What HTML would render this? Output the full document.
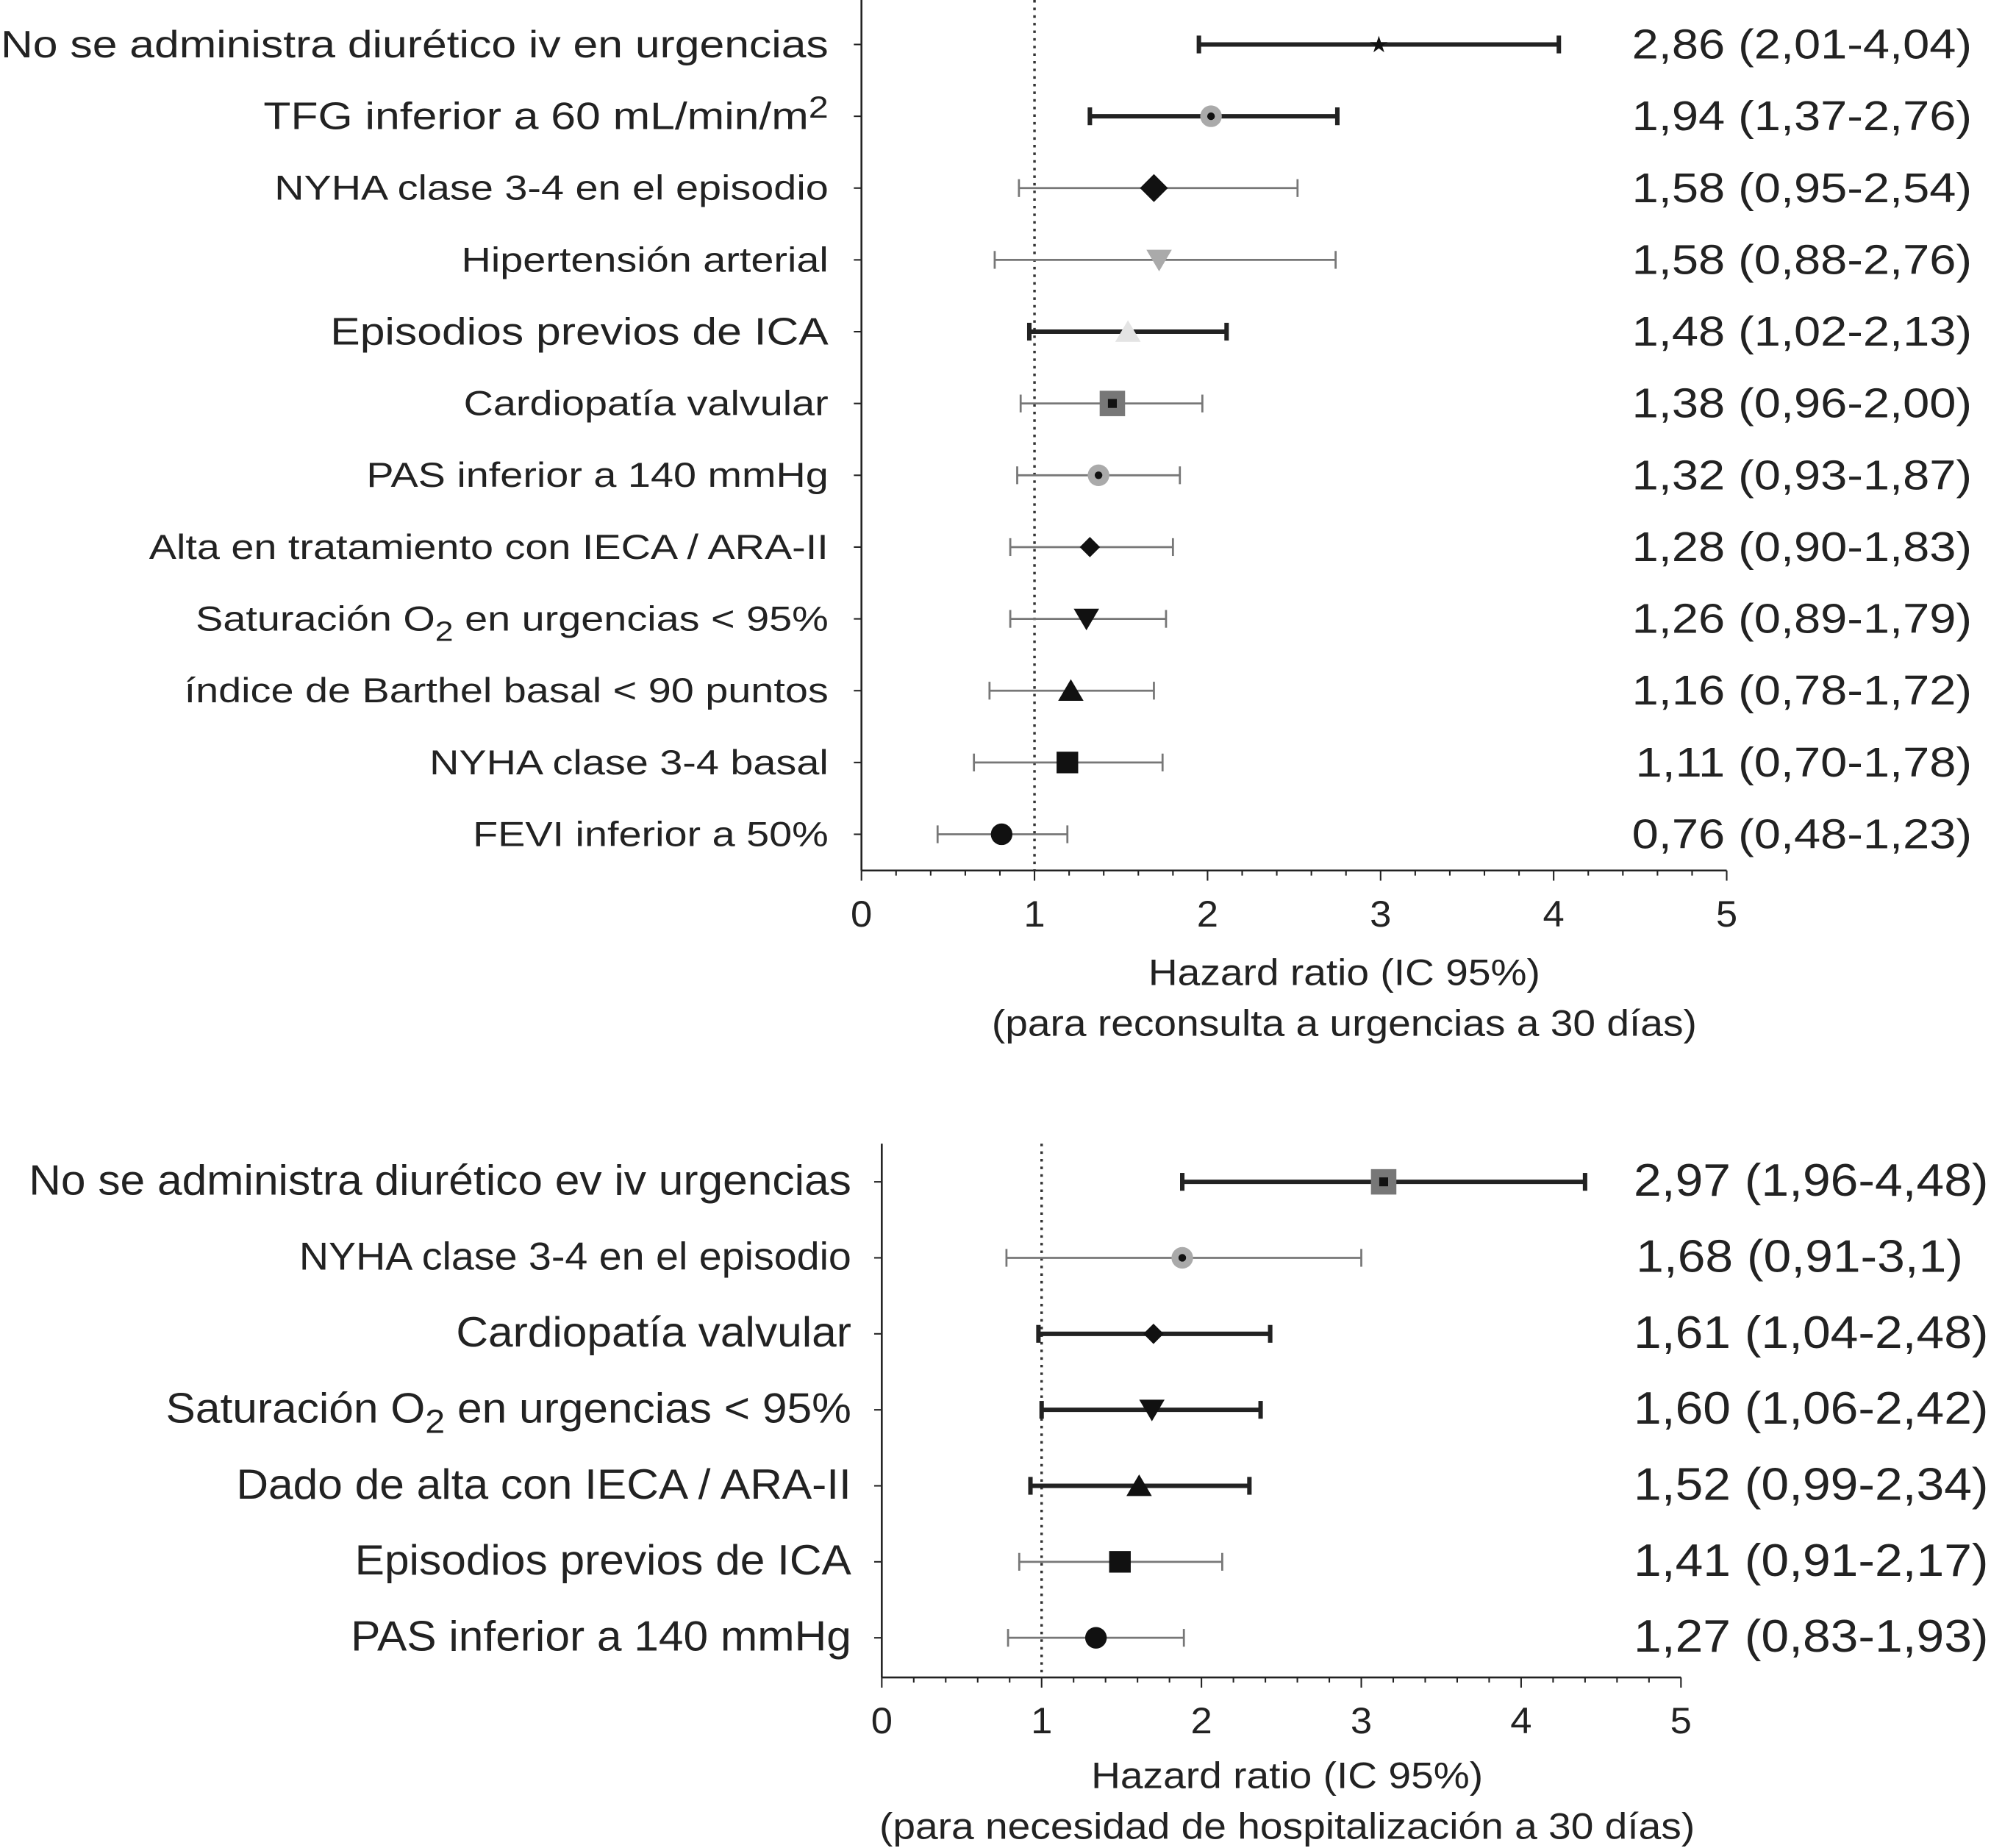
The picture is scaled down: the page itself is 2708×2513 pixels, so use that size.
<!DOCTYPE html>
<html><head><meta charset="utf-8"><style>
html,body{margin:0;padding:0;background:#fff}
svg{display:block;font-family:"Liberation Sans",sans-serif}
</style></head><body>
<svg id="chart" width="2708" height="2513" viewBox="0 0 1567 1454.2" xmlns="http://www.w3.org/2000/svg"></svg>
<script>
// ---- Panel A data (reconsulta a urgencias a 30 días)
const labelsA = ["No se administra diurético iv en urgencias","TFG inferior a 60 mL/min/m|2","NYHA clase 3-4 en el episodio","Hipertensión arterial","Episodios previos de ICA","Cardiopatía valvular","PAS inferior a 140 mmHg","Alta en tratamiento con IECA / ARA-II","Saturación O_2 en urgencias < 95%","índice de Barthel basal < 90 puntos","NYHA clase 3-4 basal","FEVI inferior a 50%"];
const pointA = [2.99,2.02,1.69,1.72,1.54,1.45,1.37,1.32,1.30,1.21,1.19,0.81];
const loA = [1.95,1.32,0.91,0.77,0.97,0.92,0.90,0.86,0.86,0.74,0.65,0.44];
const hiA = [4.03,2.75,2.52,2.74,2.11,1.97,1.84,1.80,1.76,1.69,1.74,1.19];
const valueTextA = ["2,86 (2,01-4,04)","1,94 (1,37-2,76)","1,58 (0,95-2,54)","1,58 (0,88-2,76)","1,48 (1,02-2,13)","1,38 (0,96-2,00)","1,32 (0,93-1,87)","1,28 (0,90-1,83)","1,26 (0,89-1,79)","1,16 (0,78-1,72)","1,11 (0,70-1,78)","0,76 (0,48-1,23)"];
const markerA = ["star","circleG","diamond","triDownG","triUpL","squareG","circleG","diamondS","triDown","triUp","square","circle"];
const thickA = [1,1,0,0,1,0,0,0,0,0,0,0];
// ---- Panel B data (hospitalización a 30 días)
const labelsB = ["No se administra diurético ev iv urgencias","NYHA clase 3-4 en el episodio","Cardiopatía valvular","Saturación O_2 en urgencias < 95%","Dado de alta con IECA / ARA-II","Episodios previos de ICA","PAS inferior a 140 mmHg"];
const pointB = [3.14,1.88,1.70,1.69,1.61,1.49,1.34];
const loB = [1.88,0.78,0.98,1.00,0.93,0.86,0.79];
const hiB = [4.40,3.00,2.43,2.37,2.30,2.13,1.89];
const valueTextB = ["2,97 (1,96-4,48)","1,68 (0,91-3,1)","1,61 (1,04-2,48)","1,60 (1,06-2,42)","1,52 (0,99-2,34)","1,41 (0,91-2,17)","1,27 (0,83-1,93)"];
const markerB = ["squareG","circleG","diamondS","triDown","triUp","square","circle"];
const thickB = [1,0,1,1,1,0,0];
const ticks = [0,1,2,3,4,5];

const svg = document.getElementById('chart');
const NS = "http://www.w3.org/2000/svg";
function mk(tag, attrs, parent){const e=document.createElementNS(NS,tag);for(const k in attrs)e.setAttribute(k,attrs[k]);(parent||svg).appendChild(e);return e;}
function stext(parent,x,y,fs,sx,anchor){return mk('text',{x:0,y:0,transform:`translate(${x},${y}) scale(${sx},1)`,'font-size':fs,'text-anchor':anchor,fill:"#222"},parent);}
function richText(t, str){
  let m;
  if((m=str.split('|')).length>1){t.appendChild(document.createTextNode(m[0]));const s=mk('tspan',{dy:-9,'font-size':'0.8em'},t);s.textContent=m[1];return;}
  if((m=str.split('_')).length>1){const parts=m[1].split(' ');t.appendChild(document.createTextNode(m[0]));const s=mk('tspan',{dy:8,'font-size':'0.8em'},t);s.textContent=parts[0];const r=mk('tspan',{dy:-8},t);r.textContent=' '+parts.slice(1).join(' ');return;}
  t.textContent=str;
}
function marker(g,type,x,y,s){
  const black="#111";
  if(type==="star"){mk('text',{x:x,y:y+6,'font-size':18,'text-anchor':'middle',fill:black},g).textContent="★";}
  else if(type==="circle") mk('circle',{cx:x,cy:y,r:s*0.85,fill:black},g);
  else if(type==="circleG"){mk('circle',{cx:x,cy:y,r:s*0.85,fill:"#aaa"},g);mk('circle',{cx:x,cy:y,r:3,fill:black},g);}
  else if(type==="diamond") mk('polygon',{points:`${x},${y-s*1.1} ${x+s*1.1},${y} ${x},${y+s*1.1} ${x-s*1.1},${y}`,fill:black},g);
  else if(type==="diamondS") mk('polygon',{points:`${x},${y-s*0.8} ${x+s*0.8},${y} ${x},${y+s*0.8} ${x-s*0.8},${y}`,fill:black},g);
  else if(type==="triDown") mk('polygon',{points:`${x-s},${y-s*0.8} ${x+s},${y-s*0.8} ${x},${y+s*0.9}`,fill:black},g);
  else if(type==="triDownG"){mk('polygon',{points:`${x-s},${y-s*0.8} ${x+s},${y-s*0.8} ${x},${y+s*0.9}`,fill:"#aaa"},g);}
  else if(type==="triUp") mk('polygon',{points:`${x-s},${y+s*0.8} ${x+s},${y+s*0.8} ${x},${y-s*0.9}`,fill:black},g);
  else if(type==="triUpL") mk('polygon',{points:`${x-s},${y+s*0.8} ${x+s},${y+s*0.8} ${x},${y-s*0.9}`,fill:"#e4e4e4"},g);
  else if(type==="square") mk('rect',{x:x-s*0.85,y:y-s*0.85,width:s*1.7,height:s*1.7,fill:black},g);
  else if(type==="squareG"){mk('rect',{x:x-s,y:y-s,width:s*2,height:s*2,fill:"#777"},g);mk('rect',{x:x-3.5,y:y-3.5,width:7,height:7,fill:black},g);}
}
function panel(cfg){
  const g=mk('g',{});  
  const X=v=>cfg.x0+v*(cfg.x5-cfg.x0)/5;
  const ax=mk('line',{x1:cfg.x0,y1:cfg.top,x2:cfg.x0,y2:cfg.axisY,stroke:"#222","stroke-width":1.5},g);
  
  const xa=mk('line',{x1:cfg.x0,y1:cfg.axisY,x2:cfg.x5,y2:cfg.axisY,stroke:"#222","stroke-width":1.5},g);
  
  for(let i=0;i<=25;i++){const v=i*0.2;mk('line',{x1:X(v),y1:cfg.axisY,x2:X(v),y2:cfg.axisY+(i%5===0?8:4),stroke:"#222","stroke-width":1.2},g);}
  ticks.forEach(t=>{const tl=stext(g,X(t),cfg.axisY+44,29,1.05,'middle');tl.textContent=t;});
  const ref=mk('line',{x1:X(1),y1:cfg.top,x2:X(1),y2:cfg.axisY,stroke:"#333","stroke-width":2,"stroke-dasharray":"2,4"},g);
  
  cfg.title.forEach((s,i)=>{const t=stext(g,cfg.titleX,cfg.titleY+i*40,29,1.1,'middle');t.textContent=s;});
  cfg.labels.forEach((lab,i)=>{
    const y=cfg.row0+i*cfg.dy;
    const k=cfg.rowScale[i];
    mk('line',{x1:cfg.x0-6,y1:y,x2:cfg.x0,y2:y,stroke:"#222","stroke-width":1.2},g);
    const t=stext(g,cfg.labelX,y+10*k,cfg.fs*k,cfg.sx,'end');
    richText(t,lab);
    const v=stext(g,cfg.valX+cfg.valShift[i],y+11,cfg.vfs,cfg.vsx,'end');
    v.textContent=cfg.vals[i];
    const th=cfg.thick[i];const col=th?"#222":"#777";const sw=th?3.5:1.6;
    const ci=mk('g',{},g);
    mk('line',{x1:X(cfg.lo[i]),y1:y,x2:X(cfg.hi[i]),y2:y,stroke:col,"stroke-width":sw},ci);
    [cfg.lo[i],cfg.hi[i]].forEach(e=>mk('line',{x1:X(e),y1:y-7,x2:X(e),y2:y+7,stroke:col,"stroke-width":sw},ci));
    const pm=mk('g',{},g);
    marker(pm,cfg.markers[i],X(cfg.pt[i]),y,10);
  });
}
panel({name:'forest-plot-reconsulta',x0:678,x5:1359,top:0,axisY:685,row0:35,dy:56.5,labels:labelsA,pt:pointA,lo:loA,hi:hiA,vals:valueTextA,markers:markerA,thick:thickA,labelX:652,valX:1552,fs:30,sx:1.17,vfs:33,vsx:1.14,titleX:1058,titleY:775,
  rowScale:[1,1,0.92,0.92,1,0.92,0.92,0.92,0.92,0.92,0.92,0.92],valShift:[0,0,0,0,0,0,0,0,0,0,0,0],
  title:["Hazard ratio (IC 95%)","(para reconsulta a urgencias a 30 días)"]});
panel({name:'forest-plot-hospitalizacion',x0:694,x5:1323,top:900,axisY:1320,row0:930,dy:59.8,labels:labelsB,pt:pointB,lo:loB,hi:hiB,vals:valueTextB,markers:markerB,thick:thickB,labelX:670,valX:1565,fs:33,sx:1.06,vfs:36,vsx:1.09,titleX:1013,titleY:1407,
  rowScale:[1,0.92,1,1,1,1,1],valShift:[0,-20,0,0,0,0,0],
  title:["Hazard ratio (IC 95%)","(para necesidad de hospitalización a 30 días)"]});
</script>
</body></html>
